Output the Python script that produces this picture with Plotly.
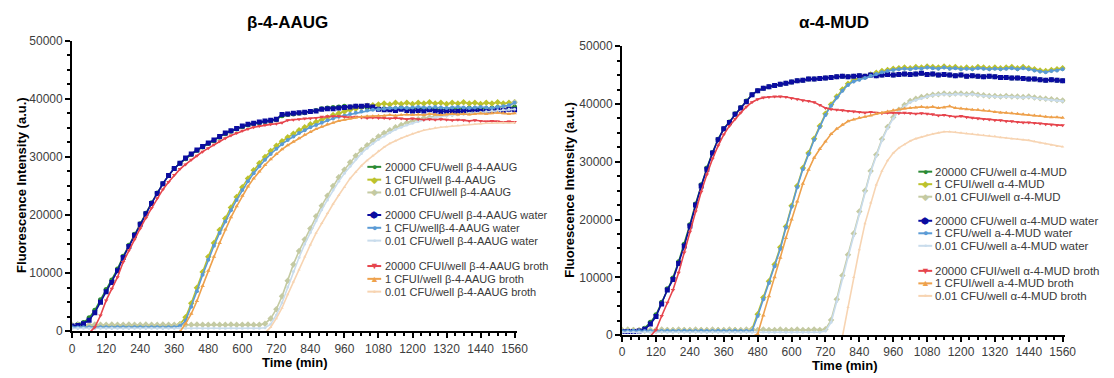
import plotly.graph_objects as go

W, H = 1114, 378
FONT = "Arial, Liberation Sans, sans-serif"

# sampling grid (min)
time_min = list(range(0, 1561, 20))
x_ticks = [0, 120, 240, 360, 480, 600, 720, 840, 960, 1080, 1200, 1320, 1440, 1560]
y_ticks = [0, 10000, 20000, 30000, 40000, 50000]

# ---------------- beta-4-AAUG ----------------
aaug_names = [
    "20000 CFU/well β-4-AAUG", "1 CFUI/well β-4-AAUG", "0.01 CFUI/well β-4-AAUG",
    "20000 CFU/well β-4-AAUG water", "1 CFU/wellβ-4-AAUG water", "0.01 CFU/well β-4-AAUG water",
    "20000 CFUI/well β-4-AAUG broth", "1 CFUI/well β-4-AAUG broth", "0.01 CFU/well β-4-AAUG broth",
]
aaug_20000 = [1000, 1200, 1500, 2300, 3600, 5400, 7200, 8800, 10700, 12900,
              14800, 16700, 18500, 20300, 22100, 23800, 25400, 26800, 28000, 28900,
              29700, 30400, 31100, 31700, 32300, 32800, 33400, 34000, 34400, 34800,
              35200, 35500, 35700, 35900, 36100, 36200, 36400, 37100, 37300, 37400,
              37500, 37600, 37800, 38000, 38300, 38400, 38500, 38600, 38700, 38600,
              38700, 38600, 38500, 38400, 38300, 38300, 38200, 38300, 38400, 38300,
              38200, 38300, 38200, 38300, 38200, 38100, 38200, 38300, 38200, 38300,
              38400, 38300, 38200, 38300, 38400, 38500, 38400, 38500, 38600]
aaug_1 = [900, 900, 950, 900, 900, 950, 900, 900, 950, 900,
          900, 950, 900, 900, 950, 900, 900, 950, 900, 1200,
          2400, 4800, 7500, 10200, 12800, 15200, 17400, 19400, 21300, 23100,
          24800, 26300, 27700, 28900, 30000, 31000, 31900, 32700, 33400, 34000,
          34600, 35100, 35600, 36000, 36400, 36800, 37200, 37500, 37800, 38100,
          38300, 38600, 38800, 38900, 39000, 39200, 39000, 39300, 39100, 39300,
          39100, 39300, 39200, 39400, 39200, 39300, 39100, 39300, 39200, 39400,
          39200, 39300, 39100, 39300, 39200, 39400, 39200, 39300, 39400]
aaug_001 = [1100, 1150, 1100, 1100, 1150, 1100, 1100, 1150, 1100, 1100,
            1150, 1100, 1100, 1150, 1100, 1100, 1150, 1100, 1100, 1150,
            1100, 1100, 1150, 1100, 1100, 1150, 1100, 1100, 1150, 1100,
            1100, 1150, 1100, 1100, 1300, 2200, 3800, 6000, 8700, 11500,
            13800, 15800, 17700, 19800, 21600, 23300, 25000, 26500, 27800, 29100,
            30200, 31200, 32000, 32800, 33500, 34100, 34600, 35100, 35500, 35900,
            36200, 36500, 36700, 36800, 37000, 37200, 37300, 37400, 37500, 37600,
            37700, 37800, 37900, 38000, 38100, 38200, 38400, 38700, 39400]
aaug_water_20000 = [900, 1000, 1300, 1900, 3200, 5000, 6800, 8400, 10400, 12700,
                    14600, 16500, 18400, 20200, 22000, 23700, 25400, 26800, 28000, 28900,
                    29800, 30500, 31200, 31800, 32400, 32900, 33500, 34100, 34500, 34900,
                    35300, 35600, 35800, 36000, 36200, 36300, 36500, 37300, 37400, 37500,
                    37600, 37700, 37800, 37900, 38200, 38300, 38300, 38400, 38500, 38600,
                    38700, 38700, 38800, 38600, 38200, 38100, 38100, 38000, 38200, 38000,
                    37900, 38000, 37900, 38100, 37900, 37800, 37900, 37800, 37800, 37900,
                    38100, 38000, 37900, 37800, 38000, 38100, 38000, 38200, 38100]
aaug_water_1 = [700, 650, 700, 700, 650, 700, 700, 650, 700, 700,
                650, 700, 700, 650, 700, 700, 650, 700, 700, 900,
                1800, 4200, 6900, 9700, 12300, 14700, 16900, 18900, 20800, 22600,
                24300, 25800, 27200, 28400, 29500, 30500, 31400, 32200, 32900, 33500,
                34100, 34600, 35100, 35500, 35900, 36300, 36600, 36900, 37100, 37400,
                37600, 37800, 38000, 38100, 38200, 38300, 38400, 38400, 38500, 38400,
                38500, 38600, 38500, 38500, 38600, 38500, 38400, 38500, 38600, 38500,
                38400, 38500, 38600, 38500, 38400, 38600, 38700, 38900, 39300]
aaug_water_001 = [500, 550, 500, 500, 550, 500, 500, 550, 500, 500,
                  550, 500, 500, 550, 500, 500, 550, 500, 500, 550,
                  500, 500, 550, 500, 500, 550, 500, 500, 550, 500,
                  500, 550, 500, 500, 600, 1200, 2800, 4900, 7600, 10300,
                  12700, 15000, 17000, 19000, 20900, 22600, 24300, 25800, 27200, 28400,
                  29600, 30600, 31500, 32300, 33000, 33600, 34200, 34700, 35100, 35500,
                  35800, 36100, 36400, 36600, 36800, 37000, 37100, 37200, 37300, 37400,
                  37500, 37600, 37700, 37800, 37900, 38000, 38100, 38200, 38200]
aaug_broth_20000 = [-600, -500, -500, -300, 700, 2700, 5300, 7300, 9300, 11900,
                    13900, 15800, 17700, 19500, 21200, 22900, 24400, 25700, 26900, 27900,
                    28700, 29500, 30200, 30900, 31500, 32100, 32700, 33200, 33700, 34100,
                    34500, 34800, 35100, 35300, 35500, 35600, 35700, 35900, 36300, 36400,
                    36500, 36600, 36600, 36700, 36900, 37000, 37000, 37000, 36900, 36800,
                    36900, 36800, 36700, 36800, 36700, 36700, 36600, 36700, 36600, 36500,
                    36600, 36500, 36400, 36500, 36400, 36500, 36400, 36300, 36400, 36300,
                    36200, 36300, 36200, 36100, 36200, 36100, 36000, 36100, 36000]
aaug_broth_1 = [-400, -400, -400, -400, -400, -400, -400, -400, -400, -400,
                -400, -400, -400, -400, -400, -400, -400, -400, -400, -100,
                1300, 3000, 5200, 7800, 10400, 12800, 15200, 17500, 19600, 21500,
                23300, 24900, 26300, 27500, 28600, 29600, 30500, 31300, 32000, 32600,
                33200, 33800, 34300, 34800, 35200, 35600, 35900, 36200, 36400, 36600,
                36800, 36900, 37000, 37000, 37100, 37100, 37200, 37100, 37200, 37300,
                37200, 37300, 37200, 37400, 37300, 37200, 37300, 37400, 37300, 37400,
                37300, 37400, 37500, 37400, 37500, 37600, 37500, 37400, 37500]
aaug_broth_001 = [-500, -500, -500, -500, -500, -500, -500, -500, -500, -500,
                  -500, -500, -500, -500, -500, -500, -500, -500, -500, -500,
                  -500, -500, -500, -500, -500, -500, -500, -500, -500, -500,
                  -500, -500, -500, -500, -300, 700, 2200, 4000, 6300, 8500,
                  10600, 12800, 14900, 16900, 18600, 20300, 21900, 23400, 24800, 26300,
                  27400, 28500, 29400, 30200, 31000, 31700, 32300, 32800, 33200, 33600,
                  34000, 34300, 34600, 34800, 35000, 35100, 35200, 35300, 35400, 35500,
                  35600, 35600, 35700, 35800, 35800, 35900, 35900, 35800, 35900]

# ---------------- alpha-4-MUD ----------------
mud_names = [
    "20000 CFU/well α-4-MUD", "1 CFUI/well α-4-MUD", "0.01 CFUI/well α-4-MUD",
    "20000 CFU/well α-4-MUD water", "1 CFU/well a-4-MUD water", "0.01 CFU/well a-4-MUD water",
    "20000 CFUI/well α-4-MUD broth", "1 CFUI/well a-4-MUD broth", "0.01 CFU/well α-4-MUD broth",
]
mud_20000 = [700, 700, 750, 800, 1200, 2200, 3500, 5700, 8000, 9900,
             12700, 15700, 19100, 22700, 26000, 28900, 31600, 33900, 35700, 36900,
             38300, 39400, 40500, 41600, 42300, 42700, 43000, 43200, 43400, 43600,
             43800, 44000, 44100, 44300, 44300, 44400, 44500, 44600, 44700, 44800,
             44700, 44800, 44900, 44800, 45000, 44900, 45000, 45100, 45000, 45100,
             45200, 45100, 45200, 45300, 45100, 45200, 45000, 45100, 45000, 44900,
             45000, 44800, 44900, 44800, 44700, 44800, 44700, 44600, 44600, 44500,
             44500, 44400, 44300, 44300, 44200, 44100, 44200, 44100, 44000]
mud_1 = [800, 800, 850, 800, 800, 850, 800, 800, 850, 800,
         800, 850, 800, 800, 850, 800, 800, 850, 800, 800,
         850, 800, 800, 1000, 3600, 6500, 9300, 12200, 15200, 18800,
         22400, 25800, 28900, 31500, 34000, 36200, 38300, 39900, 41300, 42500,
         43500, 44100, 44400, 44700, 45100, 45400, 45700, 45900, 46100, 46200,
         46300, 46200, 46400, 46300, 46500, 46400, 46300, 46500, 46300, 46400,
         46200, 46300, 46200, 46400, 46300, 46200, 46300, 46200, 46300, 46400,
         46200, 46400, 46200, 46000, 45800, 45700, 45900, 46000, 46200]
mud_001 = [900, 950, 900, 900, 950, 900, 900, 950, 900, 900,
           950, 900, 900, 950, 900, 900, 950, 900, 900, 950,
           900, 900, 950, 900, 900, 950, 900, 900, 950, 900,
           900, 950, 900, 900, 950, 900, 1000, 2600, 6200, 10300,
           13900, 17600, 21400, 25000, 28400, 31200, 33900, 36000, 37700, 39000,
           39800, 40500, 40900, 41200, 41400, 41600, 41700, 41800, 41700, 41800,
           41800, 41700, 41800, 41600, 41500, 41400, 41400, 41300, 41400, 41300,
           41300, 41200, 41300, 41100, 41000, 40900, 40800, 40700, 40600]
mud_water_20000 = [600, 600, 600, 700, 1000, 1900, 3200, 5400, 7800, 9600,
                   12400, 15400, 18900, 22500, 25800, 28700, 31500, 33800, 35700, 36800,
                   38200, 39300, 40400, 41600, 42300, 42700, 43000, 43200, 43400, 43600,
                   43800, 44000, 44100, 44300, 44300, 44400, 44500, 44600, 44700, 44800,
                   44700, 44800, 44900, 44800, 45000, 44900, 45000, 45100, 45000, 45100,
                   45200, 45100, 45200, 45300, 45100, 45200, 45000, 45100, 45000, 44900,
                   45000, 44800, 44900, 44800, 44700, 44800, 44700, 44600, 44600, 44500,
                   44500, 44400, 44300, 44300, 44200, 44100, 44200, 44100, 44000]
mud_water_1 = [700, 700, 750, 700, 700, 750, 700, 700, 750, 700,
               700, 750, 700, 700, 750, 700, 700, 750, 700, 700,
               750, 700, 700, 700, 3300, 6200, 9000, 11900, 14900, 18600,
               22200, 25600, 28700, 31300, 33800, 36000, 38100, 39700, 41100, 42300,
               43300, 43900, 44200, 44500, 44900, 45200, 45500, 45700, 45900, 46000,
               46100, 46000, 46200, 46100, 46300, 46200, 46100, 46300, 46100, 46200,
               46000, 46100, 46000, 46200, 46100, 46000, 46100, 46000, 46100, 46200,
               46000, 46200, 46000, 45800, 45600, 45500, 45700, 45800, 46000]
mud_water_001 = [500, 550, 500, 500, 550, 500, 500, 550, 500, 500,
                 550, 500, 500, 550, 500, 500, 550, 500, 500, 550,
                 500, 500, 550, 500, 500, 550, 500, 500, 550, 500,
                 500, 550, 500, 500, 550, 500, 700, 2200, 5800, 9900,
                 13500, 17200, 21000, 24700, 28200, 31000, 33700, 35800, 37500, 38800,
                 39600, 40300, 40700, 41000, 41300, 41500, 41600, 41700, 41600, 41700,
                 41700, 41600, 41700, 41500, 41400, 41300, 41300, 41200, 41300, 41200,
                 41200, 41100, 41200, 41000, 40900, 40800, 40700, 40600, 40500]
mud_broth_20000 = [-400, -400, -400, -400, -400, -200, 900, 3300, 5600, 7800,
                   10800, 14300, 17900, 21400, 24800, 27800, 30500, 32800, 34700, 36200,
                   37400, 38500, 39500, 40300, 40800, 41100, 41200, 41300, 41300, 41200,
                   41000, 40800, 40600, 40500, 40300, 39800, 39300, 39100, 39000, 38900,
                   38800, 38700, 38600, 38500, 38600, 38500, 38400, 38500, 38500, 38400,
                   38500, 38400, 38300, 38400, 38300, 38200, 38000, 38100, 37900, 37800,
                   37900, 37700, 37600, 37500, 37400, 37300, 37200, 37200, 37000, 37000,
                   36900, 36800, 36800, 36700, 36600, 36500, 36400, 36300, 36300]
mud_broth_1 = [-300, -300, -300, -300, -300, -300, -300, -300, -300, -300,
               -300, -300, -300, -300, -300, -300, -300, -300, -300, -300,
               -300, -300, -300, -300, 200, 3400, 6700, 10000, 13400, 16800,
               20000, 23100, 26200, 28600, 30700, 32200, 33500, 34800, 35700, 36400,
               37000, 37300, 37600, 37800, 38000, 38300, 38500, 38700, 38900, 39100,
               39200, 39300, 39400, 39500, 39400, 39500, 39300, 39400, 39600, 39300,
               39200, 39100, 39000, 39000, 38900, 38800, 38600, 38500, 38500, 38400,
               38300, 38200, 38100, 38000, 37900, 37800, 37700, 37700, 37600]
mud_broth_001 = [-400, -400, -400, -400, -400, -400, -400, -400, -400, -400,
                 -400, -400, -400, -400, -400, -400, -400, -400, -400, -400,
                 -400, -400, -400, -400, -400, -400, -400, -400, -400, -400,
                 -400, -400, -400, -400, -400, -400, -400, -400, -400, -300,
                 4800, 10000, 14800, 19300, 22900, 26000, 28400, 30200, 31500, 32400,
                 33000, 33600, 34000, 34300, 34600, 34800, 35000, 35200, 35200, 35100,
                 35000, 34900, 34800, 34700, 34600, 34500, 34400, 34200, 34100, 34000,
                 33900, 33800, 33700, 33500, 33300, 33100, 32900, 32700, 32600]

aaug_series = [aaug_20000, aaug_1, aaug_001,
               aaug_water_20000, aaug_water_1, aaug_water_001,
               aaug_broth_20000, aaug_broth_1, aaug_broth_001]
mud_series = [mud_20000, mud_1, mud_001,
              mud_water_20000, mud_water_1, mud_water_001,
              mud_broth_20000, mud_broth_1, mud_broth_001]

for s in aaug_series + mud_series:
    assert len(s) == len(time_min), len(s)

# per-series styling, same order in both panels
colors = ["#2b8a34", "#bcc22c", "#c4caa2",
          "#0b0ca0", "#5b9bd5", "#c9dcec",
          "#e6454d", "#eea14c", "#f7d4b2"]
symbols = ["circle", "diamond", "diamond",
           "square", "circle", "circle",
           "triangle-down", "triangle-up", "triangle-up"]
msizes = [5, 5, 5, 5, 4, 3, 4, 4, 3]
glyphs = ["●", "◆", "◆", "⬢", "●", "•", "▼", "▲", "•"]

fig = go.Figure()

for xa, ya, names, series in [("x", "y", aaug_names, aaug_series),
                              ("x2", "y2", mud_names, mud_series)]:
    for name, vals, c, sym, ms in zip(names, series, colors, symbols, msizes):
        fig.add_trace(go.Scatter(
            x=time_min, y=vals, name=name, xaxis=xa, yaxis=ya,
            mode="lines+markers", showlegend=False,
            line=dict(color=c, width=1.6),
            marker=dict(color=c, symbol=sym, size=ms, line=dict(width=0)),
        ))

axis_common = dict(
    showline=True, linecolor="black", linewidth=2,
    ticks="outside", ticklen=5, tickwidth=2, tickcolor="black",
    showgrid=False, zeroline=False,
    tickfont=dict(family=FONT, size=12, color="#3d3d3d"),
)
x_common = dict(axis_common, range=[0, 1570], tickmode="array", tickvals=x_ticks,
                ticktext=[str(v) for v in x_ticks],
                minor=dict(ticks="outside", ticklen=3, tickwidth=1.5, tickcolor="black",
                           dtick=30, tick0=0, showgrid=False))
y_common = dict(axis_common, range=[0, 50000], tickmode="array", tickvals=y_ticks,
                ticktext=[str(v) for v in y_ticks],
                minor=dict(ticks="outside", ticklen=3, tickwidth=1.5, tickcolor="black",
                           dtick=2500, tick0=0, showgrid=False))

fig.update_layout(
    width=W, height=H,
    margin=dict(l=0, r=0, t=0, b=0),
    paper_bgcolor="white", plot_bgcolor="white",
    font=dict(family=FONT, color="#222"),
    xaxis=dict(x_common, domain=[70 / W, 521 / W], anchor="y"),
    yaxis=dict(y_common, domain=[(H - 336.7) / H, (H - 35) / H], anchor="x"),
    xaxis2=dict(x_common, domain=[627 / W, 1076 / W], anchor="y2"),
    yaxis2=dict(y_common, domain=[(H - 340.7) / H, (H - 40.7) / H], anchor="x2"),
)


def px_ann(x, y, text, size, bold=False, angle=0, color="black", xanchor="center"):
    fig.add_annotation(
        x=x / W, y=1 - y / H, xref="paper", yref="paper", showarrow=False,
        text=f"<b>{text}</b>" if bold else text, textangle=angle,
        xanchor=xanchor, yanchor="middle", borderpad=0,
        font=dict(family=FONT, size=size, color=color),
    )


# panel titles and axis titles
px_ann(288, 16, "β-4-AAUG", 17, bold=True)
px_ann(842, 16, "α-4-MUD", 17, bold=True)
px_ann(296, 369, "Time (min)", 13, bold=True)
px_ann(853, 372, "Time (min)", 13, bold=True)
px_ann(18, 185, "Fluorescence Intensity (a.u.)", 13, bold=True, angle=-90)
px_ann(574, 190, "Fluorescence Intensity (a.u.)", 13, bold=True, angle=-90)


def add_legend(names, swatch_x, text_x, group_tops, row_step, size):
    for i, (name, c, g) in enumerate(zip(names, colors, glyphs)):
        grp, row = divmod(i, 3)
        y = group_tops[grp] + row * row_step
        yp = 1 - y / H
        fig.add_shape(type="line", xref="paper", yref="paper",
                      x0=(swatch_x - 7) / W, x1=(swatch_x + 7) / W, y0=yp, y1=yp,
                      line=dict(color=c, width=2))
        px_ann(swatch_x, y, g, 9, color=c)
        px_ann(text_x, y, name, size, color="#3a3a3a", xanchor="left")


add_legend(aaug_names, 376, 386, [166, 216, 269], 13.3, 11)
add_legend(mud_names, 934, 943, [171, 222, 274], 13.0, 11.5)

fig.write_html("out.html")
